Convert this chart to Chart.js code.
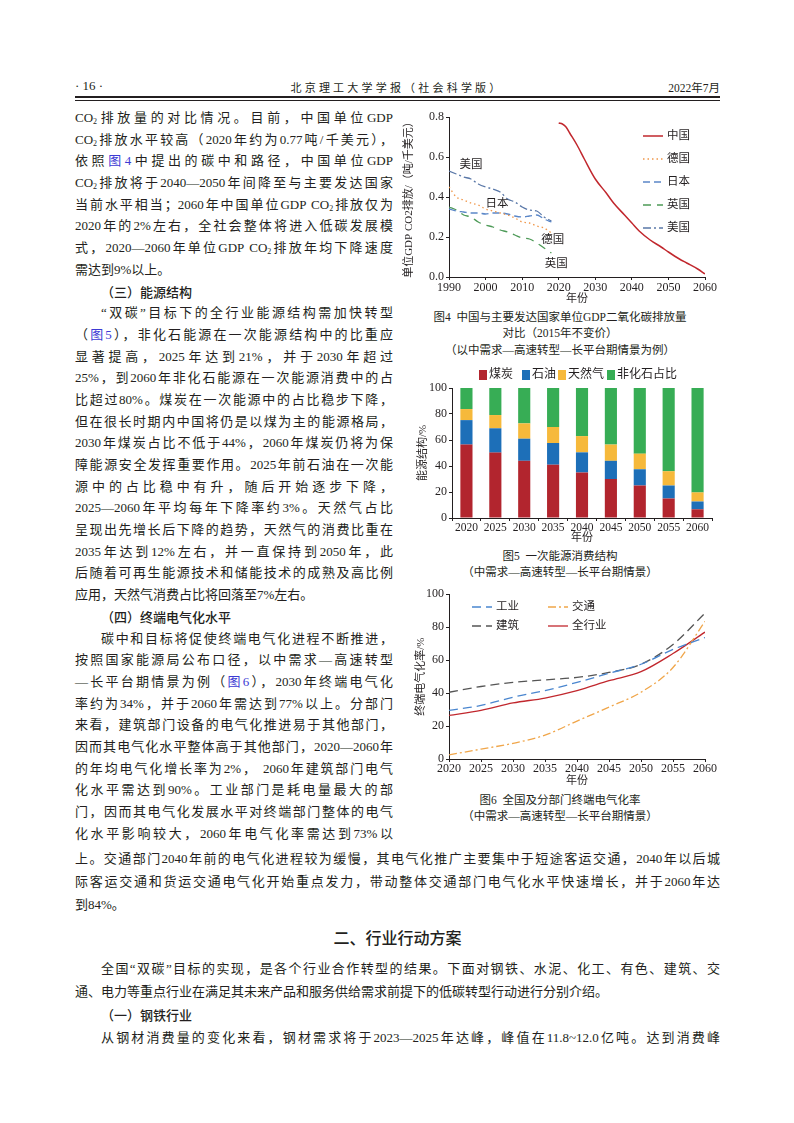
<!DOCTYPE html>
<html lang="zh-CN">
<head>
<meta charset="utf-8">
<title>北京理工大学学报 2022年7月 第16页</title>
<script src="https://cdn.jsdelivr.net/npm/chart.js@4.4.0/dist/chart.umd.min.js"></script>
<style>
    body {
        margin: 0;
        width: 794px;
        height: 1123px;
        position: relative;
        overflow: hidden;
        background: #fff;
        color: #231f20;
        font-family: "Liberation Serif", "Noto Sans CJK SC", serif;
    }
    .blk { position: absolute; font-size: 13px; }
    .blk div {
        white-space: nowrap;
        text-align: justify;
        text-align-last: justify;
    }
    .blk div.last { text-align-last: left; }
    .left div { height: 21.7px; line-height: 21.7px; }
    .full div { height: 23px; line-height: 23px; }
    .ind { padding-left: 26px; }
    .hd { font-family: "Noto Sans CJK SC", sans-serif; font-weight: 500; }
    .ref { color: #3d3bd4; }
    sub { font-size: 8px; line-height: 0; vertical-align: -2px; }
    .cap {
        position: absolute;
        left: 400px;
        width: 320px;
        text-align: center;
        font-size: 11.5px;
        line-height: 16.5px;
    }
    .chart { position: absolute; }
    .rule { position: absolute; left: 75px; width: 645px; background: #231f20; }
</style>
</head>
<body onload="initPage()">

<!-- running head -->
<div style="position:absolute;left:75px;top:78px;font-size:13px;">· 16 ·</div>
<div style="position:absolute;left:240px;width:314px;top:79px;text-align:center;font-size:11px;letter-spacing:3.2px;">北京理工大学学报（社会科学版）</div>
<div style="position:absolute;right:74px;top:79px;font-size:11.5px;">2022年7月</div>
<div class="rule" style="top:96px;height:1.6px;"></div>
<div class="rule" style="top:99.6px;height:0.7px;"></div>

<!-- left column -->
<div class="blk left" style="left:75px;top:107px;width:318px;">
    <div>CO<sub>2</sub>排放量的对比情况。目前，中国单位GDP</div>
    <div>CO<sub>2</sub>排放水平较高（2020年约为0.77吨/千美元），</div>
    <div>依照<span class="ref">图4</span>中提出的碳中和路径，中国单位GDP</div>
    <div>CO<sub>2</sub>排放将于2040—2050年间降至与主要发达国家</div>
    <div>当前水平相当；2060年中国单位GDP CO<sub>2</sub>排放仅为</div>
    <div>2020年的2%左右，全社会整体将进入低碳发展模</div>
    <div>式，2020—2060年单位GDP CO<sub>2</sub>排放年均下降速度</div>
    <div class="last">需达到9%以上。</div>
    <div class="hd ind last">（三）能源结构</div>
    <div class="ind">“双碳”目标下的全行业能源结构需加快转型</div>
    <div>（<span class="ref">图5</span>），非化石能源在一次能源结构中的比重应</div>
    <div>显著提高，2025年达到21%，并于2030年超过</div>
    <div>25%，到2060年非化石能源在一次能源消费中的占</div>
    <div>比超过80%。煤炭在一次能源中的占比稳步下降，</div>
    <div>但在很长时期内中国将仍是以煤为主的能源格局，</div>
    <div>2030年煤炭占比不低于44%，2060年煤炭仍将为保</div>
    <div>障能源安全发挥重要作用。2025年前石油在一次能</div>
    <div>源中的占比稳中有升，随后开始逐步下降，</div>
    <div>2025—2060年平均每年下降率约3%。天然气占比</div>
    <div>呈现出先增长后下降的趋势，天然气的消费比重在</div>
    <div>2035年达到12%左右，并一直保持到2050年，此</div>
    <div>后随着可再生能源技术和储能技术的成熟及高比例</div>
    <div class="last">应用，天然气消费占比将回落至7%左右。</div>
    <div class="hd ind last">（四）终端电气化水平</div>
    <div class="ind">碳中和目标将促使终端电气化进程不断推进，</div>
    <div>按照国家能源局公布口径，以中需求—高速转型</div>
    <div>—长平台期情景为例（<span class="ref">图6</span>），2030年终端电气化</div>
    <div>率约为34%，并于2060年需达到77%以上。分部门</div>
    <div>来看，建筑部门设备的电气化推进易于其他部门，</div>
    <div>因而其电气化水平整体高于其他部门，2020—2060年</div>
    <div>的年均电气化增长率为2%， 2060年建筑部门电气</div>
    <div>化水平需达到90%。工业部门是耗电量最大的部</div>
    <div>门，因而其电气化发展水平对终端部门整体的电气</div>
    <div>化水平影响较大，2060年电气化率需达到73%以</div>
</div>

<!-- full width text -->
<div class="blk full" style="left:75px;top:846.5px;width:645px;">
    <div>上。交通部门2040年前的电气化进程较为缓慢，其电气化推广主要集中于短途客运交通，2040年以后城</div>
    <div>际客运交通和货运交通电气化开始重点发力，带动整体交通部门电气化水平快速增长，并于2060年达</div>
    <div class="last">到84%。</div>
</div>
<div class="hd" style="position:absolute;left:75px;width:645px;top:925px;line-height:24px;text-align:center;font-size:16px;">二、行业行动方案</div>
<div class="blk full" style="left:75px;top:956.5px;width:645px;">
    <div class="ind">全国“双碳”目标的实现，是各个行业合作转型的结果。下面对钢铁、水泥、化工、有色、建筑、交</div>
    <div class="last">通、电力等重点行业在满足其未来产品和服务供给需求前提下的低碳转型行动进行分别介绍。</div>
    <div class="hd ind last">（一）钢铁行业</div>
    <div class="ind">从钢材消费量的变化来看，钢材需求将于2023—2025年达峰，峰值在11.8~12.0亿吨。达到消费峰</div>
</div>

<!-- figure 4 -->
<div class="chart" style="left:400px;top:105px;width:320px;height:203px;"><canvas id="chart-co2"></canvas></div>
<div class="cap" style="top:308.5px;">图4&nbsp;&nbsp;中国与主要发达国家单位GDP二氧化碳排放量<br>对比（2015年不变价）<br>（以中需求—高速转型—长平台期情景为例）</div>

<!-- figure 5 -->
<div class="chart" style="left:400px;top:362px;width:320px;height:183px;"><canvas id="chart-energy"></canvas></div>
<div class="cap" style="top:547.5px;">图5&nbsp;&nbsp;一次能源消费结构<br>（中需求—高速转型—长平台期情景）</div>

<!-- figure 6 -->
<div class="chart" style="left:400px;top:585px;width:320px;height:204px;"><canvas id="chart-elec"></canvas></div>
<div class="cap" style="top:791.5px;">图6&nbsp;&nbsp;全国及分部门终端电气化率<br>（中需求—高速转型—长平台期情景）</div>

<script>
// figure 4: CO2 per unit of GDP, t / thousand USD
var CN_YEARS = [2020, 2021, 2022, 2023, 2025, 2027, 2030, 2033, 2035, 2038, 2040, 2042, 2045, 2048, 2050, 2053, 2055, 2058, 2060];
var CN_CO2 = [0.77, 0.765, 0.75, 0.72, 0.66, 0.59, 0.49, 0.42, 0.37, 0.31, 0.27, 0.23, 0.185, 0.15, 0.125, 0.09, 0.07, 0.04, 0.015];
var HIST_YEARS = [1990, 1992, 1994, 1996, 1998, 2000, 2002, 2004, 2006, 2008, 2010, 2012, 2014, 2016, 2018];
var DE_CO2 = [0.45, 0.40, 0.385, 0.37, 0.36, 0.34, 0.33, 0.32, 0.31, 0.295, 0.275, 0.27, 0.255, 0.245, 0.22];
var JP_CO2 = [0.34, 0.33, 0.325, 0.32, 0.32, 0.315, 0.32, 0.32, 0.315, 0.305, 0.30, 0.305, 0.31, 0.29, 0.275];
var UK_CO2 = [0.35, 0.335, 0.31, 0.30, 0.275, 0.26, 0.25, 0.235, 0.225, 0.21, 0.195, 0.19, 0.17, 0.145, 0.12];
var US_CO2 = [0.53, 0.515, 0.50, 0.49, 0.465, 0.45, 0.44, 0.425, 0.39, 0.375, 0.35, 0.335, 0.33, 0.30, 0.28];
var CO2_TICKS = [0, 0.2, 0.4, 0.6, 0.8];

// figure 5: primary energy structure, %
var ENERGY_YEARS = ["2020", "2025", "2030", "2035", "2040", "2045", "2050", "2055", "2060"];
var COAL = [56.5, 50.3, 44, 41, 35, 30, 25, 15, 6.7];
var OIL = [18.8, 18.7, 17, 16.7, 15.5, 14, 12.5, 10, 6];
var GAS = [8.5, 10.2, 11.8, 12.3, 12.5, 12.5, 12, 11, 7];
var NON_FOSSIL = [16.2, 20.8, 27.2, 30, 37, 43.5, 50.5, 64, 80.3];

// figure 6: end-use electrification rate, %
var ELEC_YEARS = [2020, 2025, 2030, 2035, 2040, 2045, 2050, 2055, 2060];
var INDUSTRY = [29.5, 32.5, 37.5, 41.5, 46.5, 52, 57.5, 66.5, 73.7];
var TRANSPORT = [2.5, 6, 9.5, 14.5, 23, 31.5, 40.5, 55.5, 83.5];
var BUILDING = [40.5, 44, 46.5, 48, 49.5, 52.5, 57.5, 69.5, 88.5];
var ALL_SECTORS = [26.5, 29.5, 34, 37, 41.5, 47.5, 53, 64, 77];

var INK = "#231f20";
var FONT = '"Liberation Serif", "Noto Sans CJK SC", serif';


function initPage() {
    Chart.defaults.font.family = FONT;
    Chart.defaults.font.size = 12;
    Chart.defaults.color = INK;
    Chart.register(keyPlugin, notePlugin);
    initCo2Chart();
    initEnergyChart();
    initElecChart();
}


// pairs two arrays into {x, y} points for the linear x axes
function toPoints(xs, ys) {
    var points = [];
    for (var i = 0; i < xs.length; i++)
        points.push({ x: xs[i], y: ys[i] });
    return points;
}


// draws a legend at fixed spots inside the canvas, using the dataset's own style
var keyPlugin = {
    id: "key",
    afterDraw: function (chart, args, opts) {
        if (!opts.items)
            return;
        var ctx = chart.ctx;
        ctx.save();
        ctx.font = opts.font;
        ctx.textBaseline = "middle";
        opts.items.forEach(function (item) {
            var ds = chart.data.datasets[item.index];
            if (item.box) {
                ctx.fillStyle = ds.backgroundColor;
                ctx.fillRect(item.x, item.y - 5, 8, 10);
                ctx.fillStyle = INK;
                ctx.fillText(ds.label, item.x + 10, item.y);
            } else {
                ctx.strokeStyle = ds.borderColor;
                ctx.lineWidth = ds.borderWidth;
                ctx.setLineDash(ds.borderDash || []);
                ctx.beginPath();
                ctx.moveTo(item.x, item.y);
                ctx.lineTo(item.x + opts.sample, item.y);
                ctx.stroke();
                ctx.setLineDash([]);
                ctx.fillStyle = INK;
                ctx.fillText(ds.label, item.x + opts.sample + 4, item.y);
            }
        });
        ctx.restore();
    }
};


// writes country names next to their lines, placed with the chart's scales
var notePlugin = {
    id: "notes",
    afterDraw: function (chart, args, opts) {
        if (!opts.items)
            return;
        var ctx = chart.ctx;
        ctx.save();
        ctx.font = opts.font;
        ctx.fillStyle = INK;
        ctx.textAlign = "center";
        ctx.textBaseline = "middle";
        opts.items.forEach(function (item) {
            ctx.fillText(item.text, chart.scales.x.getPixelForValue(item.x), chart.scales.y.getPixelForValue(item.y));
        });
        ctx.restore();
    }
};


// shared look for the axes: only the axis line and short outward ticks
function axis(extra) {
    var base = {
        grid: { drawOnChartArea: false, drawTicks: true, tickLength: 3, color: INK },
        border: { display: true, color: INK, width: 1 },
        ticks: { color: INK, padding: 1, font: { size: 12 } },
        title: { display: true, color: INK, font: { size: 11 } }
    };
    return Object.assign(base, extra);
}


function initCo2Chart() {
    var line = function (label, xs, ys, color, dash, width) {
        return {
            label: label,
            data: toPoints(xs, ys),
            borderColor: color,
            borderWidth: width || 1.3,
            borderDash: dash,
            pointRadius: 0,
            fill: false,
            cubicInterpolationMode: "monotone"
        };
    };

    new Chart(document.getElementById("chart-co2"), {
        type: "line",
        data: {
            datasets: [
                line("中国", CN_YEARS, CN_CO2, "#c1272d", [], 1.5),
                line("德国", HIST_YEARS, DE_CO2, "#f0974a", [1.5, 3]),
                line("日本", HIST_YEARS, JP_CO2, "#5b87c8", [7, 4]),
                line("英国", HIST_YEARS, UK_CO2, "#4d9a57", [8, 6]),
                line("美国", HIST_YEARS, US_CO2, "#5a78a8", [8, 3, 2, 3])
            ]
        },
        options: {
            responsive: true,
            maintainAspectRatio: false,
            animation: false,
            devicePixelRatio: 1,
            layout: { padding: { top: 12, right: 15, left: 0, bottom: 0 } },
            plugins: {
                legend: { display: false },
                tooltip: { enabled: false },
                key: {
                    font: "11.5px " + FONT,
                    sample: 20,
                    items: [
                        { index: 0, x: 243, y: 31 },
                        { index: 1, x: 243, y: 54 },
                        { index: 2, x: 243, y: 77 },
                        { index: 3, x: 243, y: 100 },
                        { index: 4, x: 243, y: 123 }
                    ]
                },
                notes: {
                    font: "11.5px " + FONT,
                    items: [
                        { text: "美国", x: 1996, y: 0.56 },
                        { text: "日本", x: 2003.1, y: 0.365 },
                        { text: "德国", x: 2018.4, y: 0.185 },
                        { text: "英国", x: 2019.3, y: 0.065 }
                    ]
                }
            },
            scales: {
                x: axis({
                    type: "linear",
                    min: 1990,
                    max: 2060,
                    afterFit: function (scale) { scale.height = 31; },
                    ticks: { color: INK, padding: 1, stepSize: 10, maxRotation: 0, callback: function (v) { return String(v); } },
                    title: { display: true, text: "年份", color: INK, font: { size: 11 }, padding: { top: 0, bottom: 2 } }
                }),
                y: axis({
                    min: 0,
                    max: 0.8,
                    afterFit: function (scale) { scale.width = 49; },
                    afterBuildTicks: function (scale) {
                        scale.ticks = CO2_TICKS.map(function (v) { return { value: v }; });
                    },
                    ticks: { color: INK, padding: 2, callback: function (v) { return v.toFixed(1); } },
                    title: { display: true, text: "单位GDP CO2排放/（吨/千美元）", color: INK, font: { size: 11 }, padding: { top: 3, bottom: 0 } }
                })
            }
        }
    });
}


function initEnergyChart() {
    var bar = function (label, values, color) {
        return { label: label, data: values, backgroundColor: color, barPercentage: 0.42, categoryPercentage: 1 };
    };

    new Chart(document.getElementById("chart-energy"), {
        type: "bar",
        data: {
            labels: ENERGY_YEARS,
            datasets: [
                bar("煤炭", COAL, "#b2252e"),
                bar("石油", OIL, "#1d6fb8"),
                bar("天然气", GAS, "#f6b93b"),
                bar("非化石占比", NON_FOSSIL, "#37ad55")
            ]
        },
        options: {
            responsive: true,
            maintainAspectRatio: false,
            animation: false,
            devicePixelRatio: 1,
            layout: { padding: { top: 26, right: 8, left: 0, bottom: 0 } },
            plugins: {
                legend: { display: false },
                tooltip: { enabled: false },
                key: {
                    font: "12px " + FONT,
                    items: [
                        { index: 0, x: 79, y: 13, box: true },
                        { index: 1, x: 122, y: 13, box: true },
                        { index: 2, x: 158, y: 13, box: true },
                        { index: 3, x: 207, y: 13, box: true }
                    ]
                }
            },
            scales: {
                x: axis({
                    stacked: true,
                    afterFit: function (scale) { scale.height = 27; },
                    ticks: { color: INK, padding: 0, maxRotation: 0, minRotation: 0, autoSkip: false, font: { size: 11.5 } },
                    title: { display: true, text: "年份", color: INK, font: { size: 11 }, padding: { top: 0, bottom: 0 } }
                }),
                y: axis({
                    stacked: true,
                    min: 0,
                    max: 100,
                    afterFit: function (scale) { scale.width = 52; },
                    ticks: { color: INK, padding: 2, stepSize: 20 },
                    title: { display: true, text: "能源结构/%", color: INK, font: { size: 11 }, padding: { top: 17, bottom: 0 } }
                })
            }
        }
    });
}


function initElecChart() {
    var line = function (label, values, color, dash) {
        return {
            label: label,
            data: toPoints(ELEC_YEARS, values),
            borderColor: color,
            borderWidth: 1.3,
            borderDash: dash,
            pointRadius: 0,
            fill: false,
            cubicInterpolationMode: "monotone"
        };
    };

    new Chart(document.getElementById("chart-elec"), {
        type: "line",
        data: {
            datasets: [
                line("工业", INDUSTRY, "#4a86cf", [9, 5]),
                line("交通", TRANSPORT, "#f0a64a", [8, 3, 2, 3]),
                line("建筑", BUILDING, "#555555", [9, 5]),
                line("全行业", ALL_SECTORS, "#c1272d", [])
            ]
        },
        options: {
            responsive: true,
            maintainAspectRatio: false,
            animation: false,
            devicePixelRatio: 1,
            layout: { padding: { top: 9, right: 15, left: 0, bottom: 0 } },
            plugins: {
                legend: { display: false },
                tooltip: { enabled: false },
                key: {
                    font: "11.5px " + FONT,
                    sample: 20,
                    items: [
                        { index: 0, x: 72, y: 22 },
                        { index: 1, x: 148, y: 22 },
                        { index: 2, x: 72, y: 41 },
                        { index: 3, x: 148, y: 41 }
                    ]
                }
            },
            scales: {
                x: axis({
                    type: "linear",
                    min: 2020,
                    max: 2060,
                    afterFit: function (scale) { scale.height = 30; },
                    ticks: { color: INK, padding: 0, stepSize: 5, maxRotation: 0, callback: function (v) { return String(v); } },
                    title: { display: true, text: "年份", color: INK, font: { size: 11 }, padding: { top: 0, bottom: 1.5 } }
                }),
                y: axis({
                    min: 0,
                    max: 100,
                    afterFit: function (scale) { scale.width = 49; },
                    ticks: { color: INK, padding: 2, stepSize: 20 },
                    title: { display: true, text: "终端电气化率/%", color: INK, font: { size: 11 }, padding: { top: 15, bottom: 0 } }
                })
            }
        }
    });
}
</script>
</body>
</html>
